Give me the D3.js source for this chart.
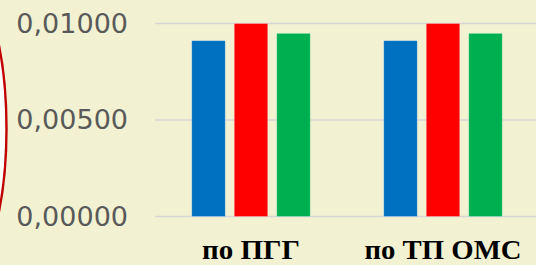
<!DOCTYPE html>
<html><head><meta charset="utf-8">
<script src="https://cdn.jsdelivr.net/npm/d3@7"></script>
<style>html,body{margin:0;padding:0;background:#F2F2D2;overflow:hidden}</style>
</head><body>
<svg id="c" width="536" height="265"></svg>
<script>
const categories = ["по ПГГ", "по ТП ОМС"];
const seriesNames = ["s1", "s2", "s3"];
const seriesBlue = [0.00911, 0.00911];
const seriesRed = [0.01000, 0.01000];
const seriesGreen = [0.00949, 0.00949];
const tickValues = [0, 0.005, 0.01];
const tickLabels = ["0,00000", "0,00500", "0,01000"];
const colors = ["#0070C0", "#FF0000", "#00B050"];

const W = 536, H = 265;
const svg = d3.select("#c");
svg.append("rect").attr("width", W).attr("height", H).attr("fill", "#F2F2D2");

const y = d3.scaleLinear().domain([0, 0.01]).range([216.5, 23.5]);
const x0 = d3.scaleBand().domain(categories).range([155, 539]).paddingInner(0).paddingOuter(0);
const x1 = d3.scaleBand().domain(seriesNames).range([0, x0.bandwidth()]).paddingInner(0.2118).paddingOuter(0.8647);

// ellipse decoration
svg.append("ellipse").attr("cx", -53.5).attr("cy", 128.5).attr("rx", 60).attr("ry", 170)
  .attr("fill", "#FFFFFF").attr("stroke", "#C00000").attr("stroke-width", 2.4);

// gridlines
svg.append("g").selectAll("line").data(tickValues).join("line")
  .attr("x1", 155).attr("x2", W)
  .attr("y1", d => y(d)).attr("y2", d => y(d))
  .attr("stroke", "#D6D6D6").attr("stroke-width", 1.6);

// y labels
svg.append("g").selectAll("text").data(tickValues).join("text")
  .attr("x", 128).attr("y", d => y(d) + 9)
  .attr("text-anchor", "end")
  .attr("font-family", "DejaVu Sans, Verdana, sans-serif")
  .attr("font-size", 27)
  .attr("fill", "#595959")
  .text((d, i) => tickLabels[i]);

const data = [seriesBlue, seriesRed, seriesGreen];
const g = svg.append("g");
categories.forEach((c, ci) => {
  seriesNames.forEach((s, si) => {
    const v = data[si][ci];
    g.append("rect")
      .attr("x", x0(c) + x1(s))
      .attr("y", y(v))
      .attr("width", x1.bandwidth())
      .attr("height", y(0) - y(v))
      .attr("fill", colors[si])
      .attr("stroke", "#FFFFFF").attr("stroke-opacity", 0.35).attr("stroke-width", 0.8);
  });
});

// x labels
const labelWidths = [98, 157];
svg.append("g").selectAll("text").data(categories).join("text")
  .attr("x", d => x0(d) + x0.bandwidth() / 2)
  .attr("y", 258.5)
  .attr("text-anchor", "middle")
  .attr("font-family", "Liberation Serif, Times New Roman, serif")
  .attr("font-weight", "bold")
  .attr("font-size", 28)
  .attr("fill", "#000000")
  .attr("textLength", (d, i) => labelWidths[i]).attr("lengthAdjust", "spacingAndGlyphs")
  .text(d => d);
</script>
</body></html>
